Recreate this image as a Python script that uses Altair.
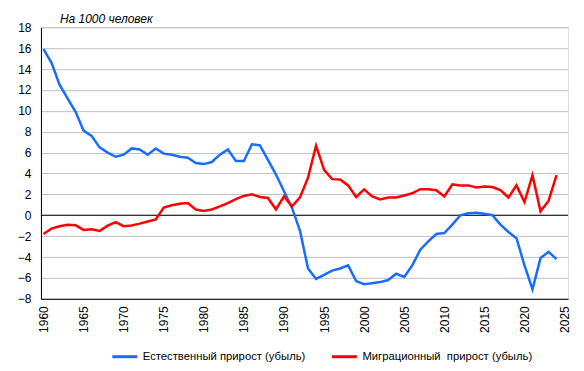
import altair as alt
import pandas as pd

years = list(range(1960, 2025))

natural = [15.9, 14.6, 12.5, 11.2, 9.9, 8.1, 7.6, 6.5, 6.0, 5.6,
           5.8, 6.4, 6.3, 5.8, 6.4, 5.9, 5.8, 5.6, 5.5, 5.0,
           4.9, 5.1, 5.8, 6.3, 5.2, 5.2, 6.8, 6.7, 5.3, 3.9,
           2.3, 0.7, -1.5, -5.1, -6.1, -5.7, -5.3, -5.1, -4.8, -6.3,
           -6.6, -6.5, -6.4, -6.2, -5.6, -5.9, -4.8, -3.3, -2.5, -1.8,
           -1.7, -0.9, 0.0, 0.2, 0.25, 0.15, 0.0, -0.9, -1.6, -2.2,
           -4.8, -7.1, -4.1, -3.5, -4.2]

migration = [-1.8, -1.27, -1.05, -0.9, -0.95, -1.4, -1.35, -1.5, -1.0, -0.65,
             -1.05, -0.98, -0.8, -0.6, -0.4, 0.73, 0.95, 1.1, 1.17, 0.55,
             0.4, 0.55, 0.85, 1.17, 1.55, 1.85, 2.0, 1.75, 1.65, 0.55,
             1.8, 0.85, 1.72, 3.6, 6.67, 4.35, 3.46, 3.43, 2.86, 1.75,
             2.48, 1.8, 1.52, 1.7, 1.7, 1.9, 2.1, 2.5, 2.5, 2.4,
             1.8, 2.95, 2.86, 2.86, 2.67, 2.76, 2.7, 2.4, 1.7, 2.86,
             1.27, 3.84, 0.38, 1.37, 3.84]

series_names = ["Естественный прирост (убыль)", "Миграционный\u00a0 прирост (убыль)"]
series_colors = ["#1a6cff", "#ff0000"]

x_ticks = list(range(1960, 2030, 5))
y_ticks = list(range(-8, 20, 2))
title_text = "На 1000 человек"

rows = []
for yr, v in zip(years, natural):
    rows.append({"year": yr, "value": v, "series": series_names[0]})
for yr, v in zip(years, migration):
    rows.append({"year": yr, "value": v, "series": series_names[1]})
df = pd.DataFrame(rows)

font = "Liberation Sans"

x_scale = alt.Scale(domain=[1959.68, 2025.43], nice=False, zero=False)
y_scale = alt.Scale(domain=[-8, 18], nice=False, zero=False)

x_axis = alt.Axis(values=x_ticks, format="d", labelAngle=270, labelAlign="right",
                  labelBaseline="middle", ticks=False, grid=False,
                  labelPadding=7, domainColor="black", labelFont=font,
                  labelFontSize=12, labelColor="black", title=None,
                  labelFlush=False, labelOverlap=False)
y_axis = alt.Axis(values=y_ticks, ticks=False, grid=True, gridColor="#c0c0c0",
                  gridWidth=1, domainColor="black", labelFont=font,
                  labelFontSize=12, labelColor="black", labelPadding=10,
                  title=None, minExtent=28, maxExtent=28, labelFlush=False,
                  labelOverlap=False)

lines = alt.Chart(df).mark_line(strokeWidth=2.5).encode(
    x=alt.X("year:Q", scale=x_scale, axis=x_axis),
    y=alt.Y("value:Q", scale=y_scale, axis=y_axis),
    color=alt.Color("series:N",
                    scale=alt.Scale(domain=series_names, range=series_colors),
                    legend=alt.Legend(orient="none", legendX=70, legendY=316,
                                      direction="horizontal", title=None,
                                      symbolType="stroke", symbolSize=625,
                                      symbolStrokeWidth=3, labelFont=font,
                                      labelFontSize=11.3, labelColor="black",
                                      labelOffset=4, columnPadding=19, padding=0,
                                      labelLimit=0)),
)

zero = alt.Chart(pd.DataFrame({"v": [0]})).mark_rule(color="black", strokeWidth=1.2).encode(
    y=alt.Y("v:Q", scale=y_scale, axis=y_axis)
)

chart = alt.layer(zero, lines).properties(
    width=528, height=272,
    title=alt.TitleParams(title_text, anchor="start", dx=19, offset=-5, font=font,
                          fontSize=12, fontStyle="italic", fontWeight="normal",
                          color="black", frame="group"),
    padding={"left": 5, "top": 5, "right": 5, "bottom": 5},
).configure_view(stroke="black", strokeWidth=1).configure(background="white")

chart.save("out.html", embed_options={"renderer": "svg", "actions": False})
